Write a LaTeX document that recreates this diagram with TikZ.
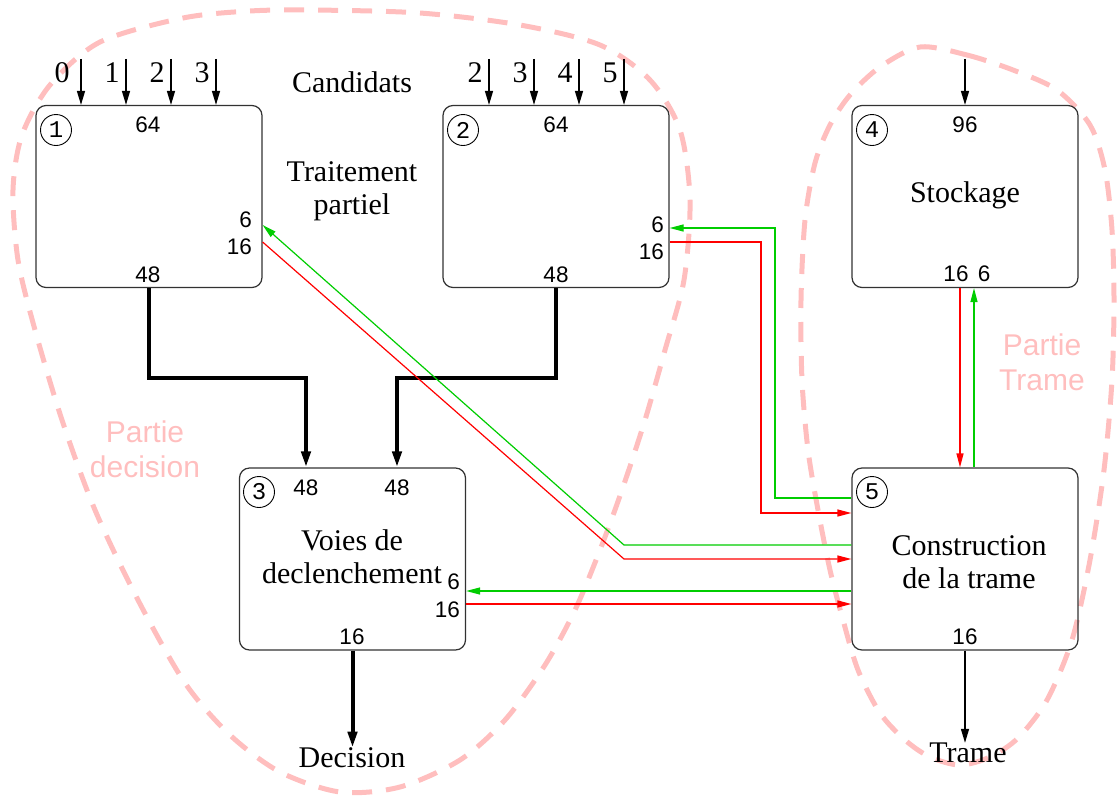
\documentclass[tikz,border=0pt]{standalone}
\usepackage{fontspec}
\setmainfont{Liberation Serif}
\setsansfont{Liberation Sans}
\setmonofont{Liberation Mono}
\usetikzlibrary{arrows.meta,calc}
\definecolor{blobpink}{RGB}{255,190,190}
\definecolor{lgreen}{RGB}{0,205,0}
\definecolor{lred}{RGB}{255,0,0}
\definecolor{boxline}{RGB}{50,50,50}
\begin{document}
\begin{tikzpicture}[x=1pt,y=-1pt,
  box/.style={draw=boxline, line width=1.2pt, rounded corners=10pt, minimum width=226pt, minimum height=182pt, inner sep=0pt},
  num/.style={font=\sffamily\fontsize{22.5}{24}\selectfont, inner sep=0pt},
  circnum/.style={draw=black, circle, line width=0.9pt, minimum size=31pt, inner sep=0pt, font=\ttfamily\fontsize{24}{24}\selectfont},
  txt/.style={font=\fontsize{30}{33}\selectfont, inner sep=0pt, align=center},
  inarr/.style={draw=black, line width=1.4pt, -{Triangle[length=14pt,width=8pt]}},
  bigarr/.style={draw=black, line width=4pt, -{Triangle[length=16pt,width=9pt]}},
  garr/.style={draw=lgreen, line width=1.2pt, -{Triangle[length=14pt,width=7pt]}},
  rarr/.style={draw=lred, line width=1.2pt, -{Triangle[length=14pt,width=7pt]}},
  blob/.style={draw=blobpink, line width=5pt, dash pattern=on 20pt off 14pt},
  ptxt/.style={text=blobpink, font=\sffamily\fontsize{30}{35}\selectfont, align=center, inner sep=0pt}
]
\useasboundingbox (0,0) rectangle (1117,796);

% regions (behind)
\draw[blob] plot[smooth cycle] coordinates {(312,10) (420,13) (520,25) (600,45) (650,80) (680,130) (690,200) (684,280) (665,350) (645,420) (622,490) (600,550) (575,610) (545,665) (505,720) (460,760) (400,787) (340,792) (280,772) (230,735) (185,683) (138,600) (95,510) (62,420) (35,330) (18,260) (13,190) (22,135) (50,85) (100,42) (183,18) (250,11)};
\draw[blob] plot[smooth cycle] coordinates {(920,47) (967,55) (1013,70) (1057,90) (1090,125) (1105,170) (1112,230) (1114,300) (1112,380) (1104,470) (1090,560) (1072,640) (1047,700) (1018,738) (990,757) (960,765) (930,757) (905,740) (880,713) (858,670) (843,620) (830,570) (818,510) (808,450) (802,380) (801,300) (805,220) (815,163) (830,125) (850,95) (880,67)};
\node[ptxt] (pdec) at (145,449) {Partie\\decision};
\node[ptxt] (ptr) at (1042,362) {Partie\\Trame};

% boxes
\node[box] (b1) at (149,196.5) {};
\node[box] (b2) at (556,196.5) {};
\node[box] (b4) at (965,196.5) {};
\node[box] (b3) at (352.5,559) {};
\node[box] (b5) at (965,559) {};

% circled numbers
\node[circnum] (c1) at (56,130) {1};
\node[circnum] (c2) at (463,130) {2};
\node[circnum] (c4) at (872,130) {4};
\node[circnum] (c3) at (259,492) {3};
\node[circnum] (c5) at (872,492) {5};

% numbers in boxes
\node[num] (n1t) at (148,125) {64};
\node[num] (n1b) at (148,275) {48};
\node[num,anchor=east] (n1g) at (252,220) {6};
\node[num,anchor=east] (n1r) at (252,247) {16};
\node[num] (n2t) at (556,125) {64};
\node[num] (n2b) at (556,275) {48};
\node[num,anchor=east] (n2g) at (664,225) {6};
\node[num,anchor=east] (n2r) at (664,252) {16};
\node[num] (n3a) at (306,488) {48};
\node[num] (n3b) at (397,488) {48};
\node[num,anchor=east] (n3g) at (460,582) {6};
\node[num,anchor=east] (n3r) at (460,610) {16};
\node[num] (n3o) at (352,637) {16};
\node[num] (n4t) at (965,125) {96};
\node[num] (n4r) at (956,274) {16};
\node[num] (n4g) at (984,274) {6};
\node[num] (n5o) at (965,637) {16};

% texts
\node[txt] (t4) at (965,195) {Stockage};
\node[txt] (t3) at (352,557) {Voies de\\declenchement};
\node[txt] (t5) at (969,562) {Construction\\de la trame};
\node[txt] (tcand) at (352,82) {Candidats};
\node[txt] (ttrait) at (352,191) {Traitement\\partiel};

% inputs box 1
\foreach \dx/\lab/\lx in {-68/0/62, -23/1/112, 22/2/157, 67/3/202}{
  \draw[inarr] ([xshift=\dx pt,yshift=46pt]b1.north) -- ([xshift=\dx pt]b1.north);
  \node[txt] at (\lx,73) {\lab};
}
% inputs box 2
\foreach \dx/\lab/\lx in {-67/2/475, -22/3/520, 23/4/565, 68/5/610}{
  \draw[inarr] ([xshift=\dx pt,yshift=46pt]b2.north) -- ([xshift=\dx pt]b2.north);
  \node[txt] at (\lx,73) {\lab};
}
% input box 4
\draw[inarr] ([yshift=46pt]b4.north) -- (b4.north);

% thick merges
\draw[bigarr] (b1.south) -- ++(0,90) -| ([xshift=-46.5pt]b3.north);
\draw[bigarr] (b2.south) -- ++(0,90) -| ([xshift=44.5pt]b3.north);

% decision output
\node[txt] (tdec) at (352,758) {Decision};
\draw[bigarr] (b3.south) -- (b3.south |- tdec.north);
% trame output
\node[txt] (ttrame) at (968,753) {Trame};
\draw[inarr] (b5.south) -- (b5.south |- ttrame.north);

% box 4 <-> box 5
\draw[rarr] ([xshift=-5pt]b4.south) -- ([xshift=-5pt]b5.north);
\draw[garr] ([xshift=9pt]b5.north) -- ([xshift=9pt]b4.south);

% box 2 <-> box 5
\draw[garr] ([yshift=61pt]b5.west) -| (775,228) -- ([yshift=-31.5pt]b2.east);
\draw[rarr] ([yshift=-45.5pt]b2.east) -| (761,513) -- ([yshift=46pt]b5.west);

% box 1 <-> box 5
\draw[garr] ([yshift=14pt]b5.west) -- (624,545) -- ([yshift=-28.5pt]b1.east);
\draw[rarr] ([yshift=-45.5pt]b1.east) -- (624,559) -- (b5.west);

% box 3 <-> box 5
\draw[garr] ([yshift=-32pt]b5.west) -- ([yshift=-32pt]b3.east);
\draw[rarr] ([yshift=-45pt]b3.east) -- ([yshift=-45pt]b5.west);
\end{tikzpicture}
\end{document}
